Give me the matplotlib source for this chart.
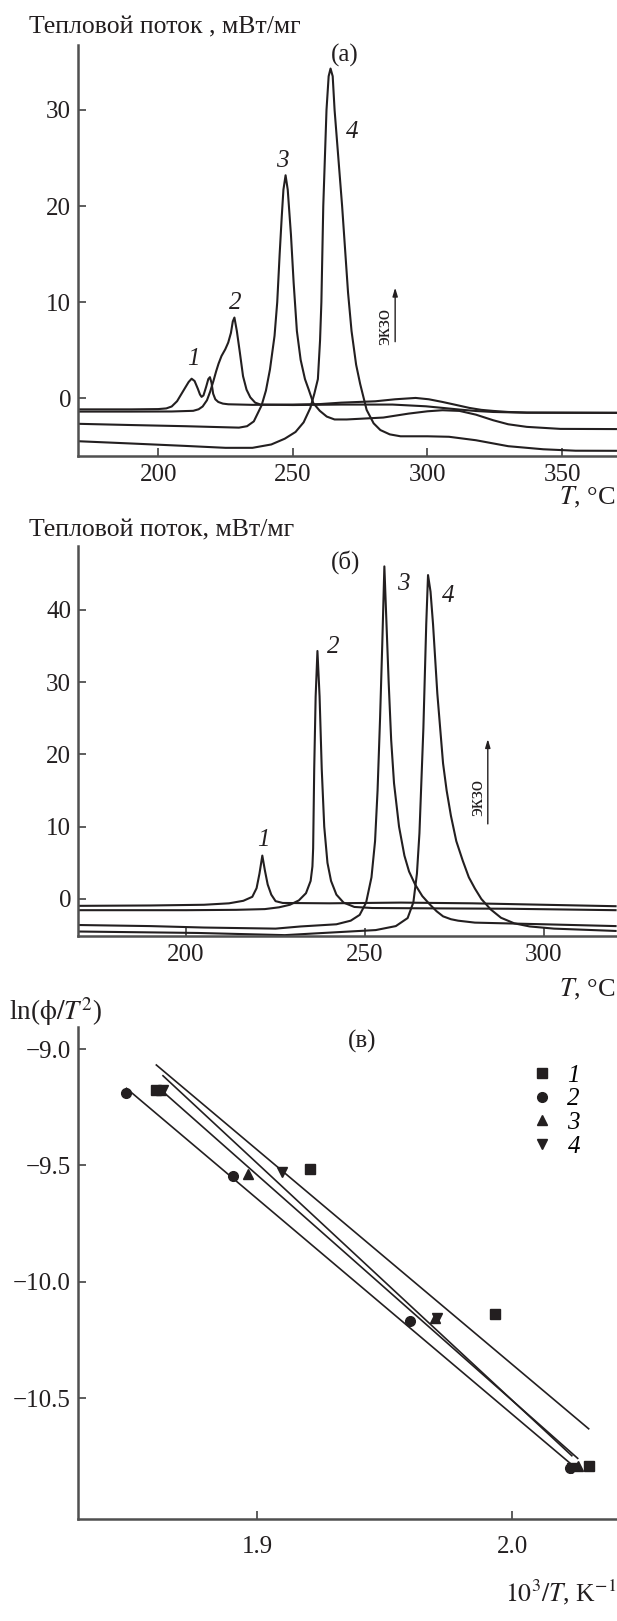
import numpy as np
import matplotlib.pyplot as plt
from matplotlib.lines import Line2D

plt.rcParams['font.family'] = 'Liberation Serif'
plt.rcParams['mathtext.fontset'] = 'stix'

INK = '#231f20'
AXC = '#505050'

# (а) heat flow, mW/mg vs T, °C
a1_t = [170, 190, 200, 203, 205, 207, 208.5, 210, 211.3, 212.4, 213.5, 214.7, 215.5, 216.1, 216.8,
        217.8, 218.6, 219.2, 219.8, 220.4, 221.2, 222.3, 224, 226, 235, 250, 260, 268, 280.6, 288,
        295.6, 300.5, 305.6, 310, 315.6, 320, 324.4, 330, 337, 370]
a1_q = [-1.15, -1.15, -1.12, -1.05, -0.85, -0.3, 0.4, 1.1, 1.7, 2.04, 1.8, 1.0, 0.4, 0.15, 0.3,
        1.2, 2.0, 2.2, 1.6, 0.48, -0.1, -0.38, -0.55, -0.62, -0.68, -0.65, -0.6, -0.45, -0.31, -0.1,
        0.04, -0.1, -0.38, -0.65, -1.0, -1.2, -1.31, -1.42, -1.48, -1.5]
a2_t = [170, 190, 205, 213, 215, 216.5, 218.1, 219.3, 220.5, 221.5, 222.4, 223.5, 224.9, 226, 227,
        227.7, 228.3, 229.2, 230.3, 231.5, 232.8, 234.2, 236, 238, 250, 268, 287, 299.4, 305, 311.9,
        318, 324.4, 337, 370]
a2_q = [-1.38, -1.38, -1.37, -1.3, -1.14, -0.85, -0.2, 0.7, 1.8, 2.8, 3.6, 4.4, 5.1, 5.8, 6.8,
        8.0, 8.4, 7.0, 4.8, 2.3, 0.9, 0.1, -0.45, -0.65, -0.7, -0.65, -0.65, -0.83, -0.98, -1.17,
        -1.32, -1.42, -1.5, -1.52]
a3_t = [170, 190, 210, 230, 233, 235.5, 238.4, 240, 241.5, 243.2, 244.2, 245.1, 245.9, 246.5, 247.3,
        248.1, 249.3, 250.3, 251.5, 252.9, 254.5, 255.9, 257.6, 260, 262.6, 265.5, 270, 283.6, 293,
        300, 305.6, 311.9, 318, 324.4, 330, 336.9, 349.4, 370]
a3_q = [-2.65, -2.78, -2.9, -3.05, -2.9, -2.4, -0.73, 0.8, 3.0, 6.5, 10, 15, 19, 21.7, 23.2,
        21.7, 17, 12, 7, 4, 2.0, 0.9, -0.5, -1.3, -1.9, -2.2, -2.2, -2.0, -1.59,
        -1.35, -1.24, -1.31, -1.7, -2.28, -2.7, -2.97, -3.18, -3.2]
a4_t = [170, 190, 210, 225, 235, 242, 247, 251, 254, 256.5, 258, 259.3, 260.1, 260.6, 261.3, 262.5,
        263.3, 264, 264.8, 265.5, 268.3, 270.5, 271.8, 273.5, 275, 277.4, 280, 282.5, 286, 290, 300,
        308, 318, 330, 343, 355, 370]
a4_q = [-4.46, -4.7, -4.95, -5.15, -5.15, -4.8, -4.2, -3.5, -2.5, -1.0, 0.5, 2.0, 6, 10, 20, 30,
        33.5, 34.3, 33.5, 30, 20, 11, 7, 3.5, 1.5, -1.2, -2.6, -3.3, -3.75, -3.95, -3.95,
        -4.0, -4.36, -4.98, -5.3, -5.45, -5.46]

# (б)
b1_t = [170, 190, 205, 212, 216, 218.5, 219.7, 220.5, 221.3, 222, 222.8, 223.8, 225, 227, 240, 260,
        280, 300, 320]
b1_q = [-0.95, -0.9, -0.8, -0.6, -0.25, 0.3, 1.5, 3.5, 6.0, 4.0, 2.0, 0.6, -0.3, -0.55, -0.6, -0.5,
        -0.6, -0.8, -1.0]
b2_t = [170, 200, 214, 222, 226, 229, 231.5, 233.5, 234.8, 235.3, 235.5, 235.8, 236.2, 236.7, 237.3,
        237.9, 238.6, 239.5, 240.5, 242, 244, 247, 252, 270, 290, 320]
b2_q = [-1.55, -1.55, -1.5, -1.4, -1.15, -0.8, -0.2, 0.8, 2.5, 4.5, 7, 18, 28, 34.3, 28,
        18, 10, 5, 2.5, 0.6, -0.5, -1.1, -1.25, -1.3, -1.35, -1.55]
b3_t = [170, 190, 205, 225, 232, 242, 246, 248.5, 250.3, 251.8, 252.8, 253.5, 254.2, 254.8, 255.4,
        256.0, 256.6, 257.3, 258.1, 259.5, 261, 262.3, 264, 266, 268, 270, 271.8, 274, 276, 280.7,
        300, 320]
b3_q = [-3.6, -3.75, -3.95, -4.1, -3.8, -3.5, -3.0, -2.2, -0.5, 3, 8, 15, 25, 35, 46.0,
        38, 30, 22, 16, 10, 6, 3.8, 2, 0.4, -0.7, -1.7, -2.4, -2.8, -3.0, -3.27, -3.5, -3.75]
b4_t = [170, 203.3, 227.6, 236.5, 253, 258.6, 261.9, 263.5, 264.5, 265.2, 266.3, 267.1, 267.6, 268.3,
        269.0, 270.2, 271.8, 272.8, 274.0, 275.5, 277.3, 279, 280.7, 282.5, 285.1, 288, 291.7, 296,
        302.8, 320]
b4_q = [-4.5, -4.7, -5.0, -4.75, -4.3, -3.75, -2.64, -0.48, 3.5, 9.1, 23.6, 38.0, 44.8, 42.5,
        38, 28.4, 18.75, 15, 11.5, 8, 5.3, 3, 1.44, 0, -1.44, -2.6, -3.37, -3.8, -4.1, -4.42]

# (в) ln(phi/T^2) vs 10^3/T
c_x = [[1.8605, 1.9209, 1.9930, 2.0299],
       [1.8488, 1.8907, 1.9597, 2.0225],
       [1.8623, 1.8966, 1.9698, 2.0256],
       [1.8631, 1.9096, 1.9705, 2.0233]]
c_y = [[-9.174, -9.514, -10.137, -10.793],
       [-9.187, -9.547, -10.168, -10.800],
       [-9.174, -9.536, -10.158, -10.793],
       [-9.174, -9.529, -10.158, -10.800]]
c_markers = ['s', 'o', '^', 'v']
c_names = ['1', '2', '3', '4']
c_yticks = [-9.0, -9.5, -10.0, -10.5]
c_ylabels = ['\u22129.0', '\u22129.5', '\u221210.0', '\u221210.5']

W, H = 617, 1621
fig = plt.figure(figsize=(W / 100, H / 100), dpi=100)


def px_axes(top, bottom, left=78, right=617):
    return fig.add_axes([left / W, 1 - bottom / H, (right - left) / W, (bottom - top) / H])


def ftext(x, y, s, **kw):
    fig.text(x / W, 1 - y / H, s, **kw)


def style(ax):
    for s in ('top', 'right'):
        ax.spines[s].set_visible(False)
    for s in ('left', 'bottom'):
        ax.spines[s].set_color(AXC)
        ax.spines[s].set_linewidth(1.8)
    ax.tick_params(direction='in', length=6, width=1.3, color=AXC, labelsize=18, labelcolor=INK)
    ax.tick_params(axis='x', pad=6)
    ax.tick_params(axis='y', pad=5)


def exo(ax, tx, ty, ax_x, y0, y1):
    ax.text(tx, ty, 'экзо', rotation=90, ha='center', va='center', fontsize=15, color=INK)
    ax.annotate('', xy=(ax_x, y1), xytext=(ax_x, y0),
                arrowprops=dict(arrowstyle='-|>,head_length=0.5,head_width=0.15', lw=1.0, color=INK))


# panel (а)
ax = px_axes(45, 456)
style(ax)
for t, q in [(a1_t, a1_q), (a2_t, a2_q), (a3_t, a3_q), (a4_t, a4_q)]:
    ax.plot(t, q, color=INK, lw=1.5)
ax.set_xlim(170.2, 370.4)
ax.set_ylim(-6.0, 36.75)
ax.set_xticks([200, 250, 300, 350])
ax.set_yticks([0, 10, 20, 30])
for x, y, s in [(212.9, 4.1, '1'), (228.7, 9.9, '2'), (246.2, 24.7, '3'), (272.1, 27.7, '4')]:
    ax.text(x, y, s, style='italic', fontsize=18, ha='center', va='center', color=INK)
ax.text(269.4, 35.7, '(а)', fontsize=18, ha='center', va='center', color=INK)
exo(ax, 284.3, 7.5, 288.0, 5.6, 11.8)
ftext(29, 27, 'Тепловой поток , мВт/мг', fontsize=18.5, va='center', color=INK)
ftext(616, 497, '$T$, °C', fontsize=19, ha='right', va='center', color=INK)

# panel (б)
ax = px_axes(546, 936)
style(ax)
for t, q in [(b1_t, b1_q), (b2_t, b2_q), (b3_t, b3_q), (b4_t, b4_q)]:
    ax.plot(t, q, color=INK, lw=1.5)
ax.set_xlim(169.8, 320.4)
ax.set_ylim(-5.12, 48.82)
ax.set_xticks([200, 250, 300])
ax.set_yticks([0, 10, 20, 30, 40])
for x, y, s in [(221.5, 8.2, '1'), (241.2, 34.9, '2'), (260.8, 43.5, '3'), (273.3, 41.9, '4')]:
    ax.text(x, y, s, style='italic', fontsize=18, ha='center', va='center', color=INK)
ax.text(244.5, 46.6, '(б)', fontsize=18, ha='center', va='center', color=INK)
exo(ax, 281.5, 14.0, 284.3, 10.0, 22.5)
ftext(29, 530, 'Тепловой поток, мВт/мг', fontsize=18.5, va='center', color=INK)
ftext(616, 989, '$T$, °C', fontsize=19, ha='right', va='center', color=INK)

# panel (в)
ax = px_axes(1027, 1519)
style(ax)
ax.tick_params(axis='x', pad=12)
handles = []
for xs, ys, m in zip(c_x, c_y, c_markers):
    k, b = np.polyfit(xs, ys, 1)
    xe = np.array([min(xs), max(xs)])
    ax.plot(xe, k * xe + b, color=INK, lw=1.2)
    ax.plot(xs, ys, ls='none', marker=m, ms=7, color=INK)
    handles.append(Line2D([], [], ls='none', marker=m, ms=7, color=INK))
ax.set_xlim(1.8298, 2.041)
ax.set_ylim(-11.02, -8.905)
ax.set_xticks([1.9, 2.0])
ax.set_xticklabels(['1.9', '2.0'])
ax.set_yticks(c_yticks)
ax.set_yticklabels(c_ylabels)
ax.legend(handles, c_names, loc='upper left', bbox_to_anchor=(0.82, 0.945), frameon=False,
          handlelength=1.0, handletextpad=0.5, labelspacing=0.05, borderaxespad=0,
          prop={'style': 'italic', 'size': 18})
ax.text(1.9412, -8.968, '(в)', fontsize=18, ha='center', va='center', color=INK)
ftext(9, 1012, r'ln($\mathrm{\phi}/T^2$)', fontsize=19.5, va='center', color=INK)
ftext(616, 1592, r'$10^3/T$, K$^{-1}$', fontsize=18.5, ha='right', va='center', color=INK)

fig.savefig('out.png', dpi=100)
